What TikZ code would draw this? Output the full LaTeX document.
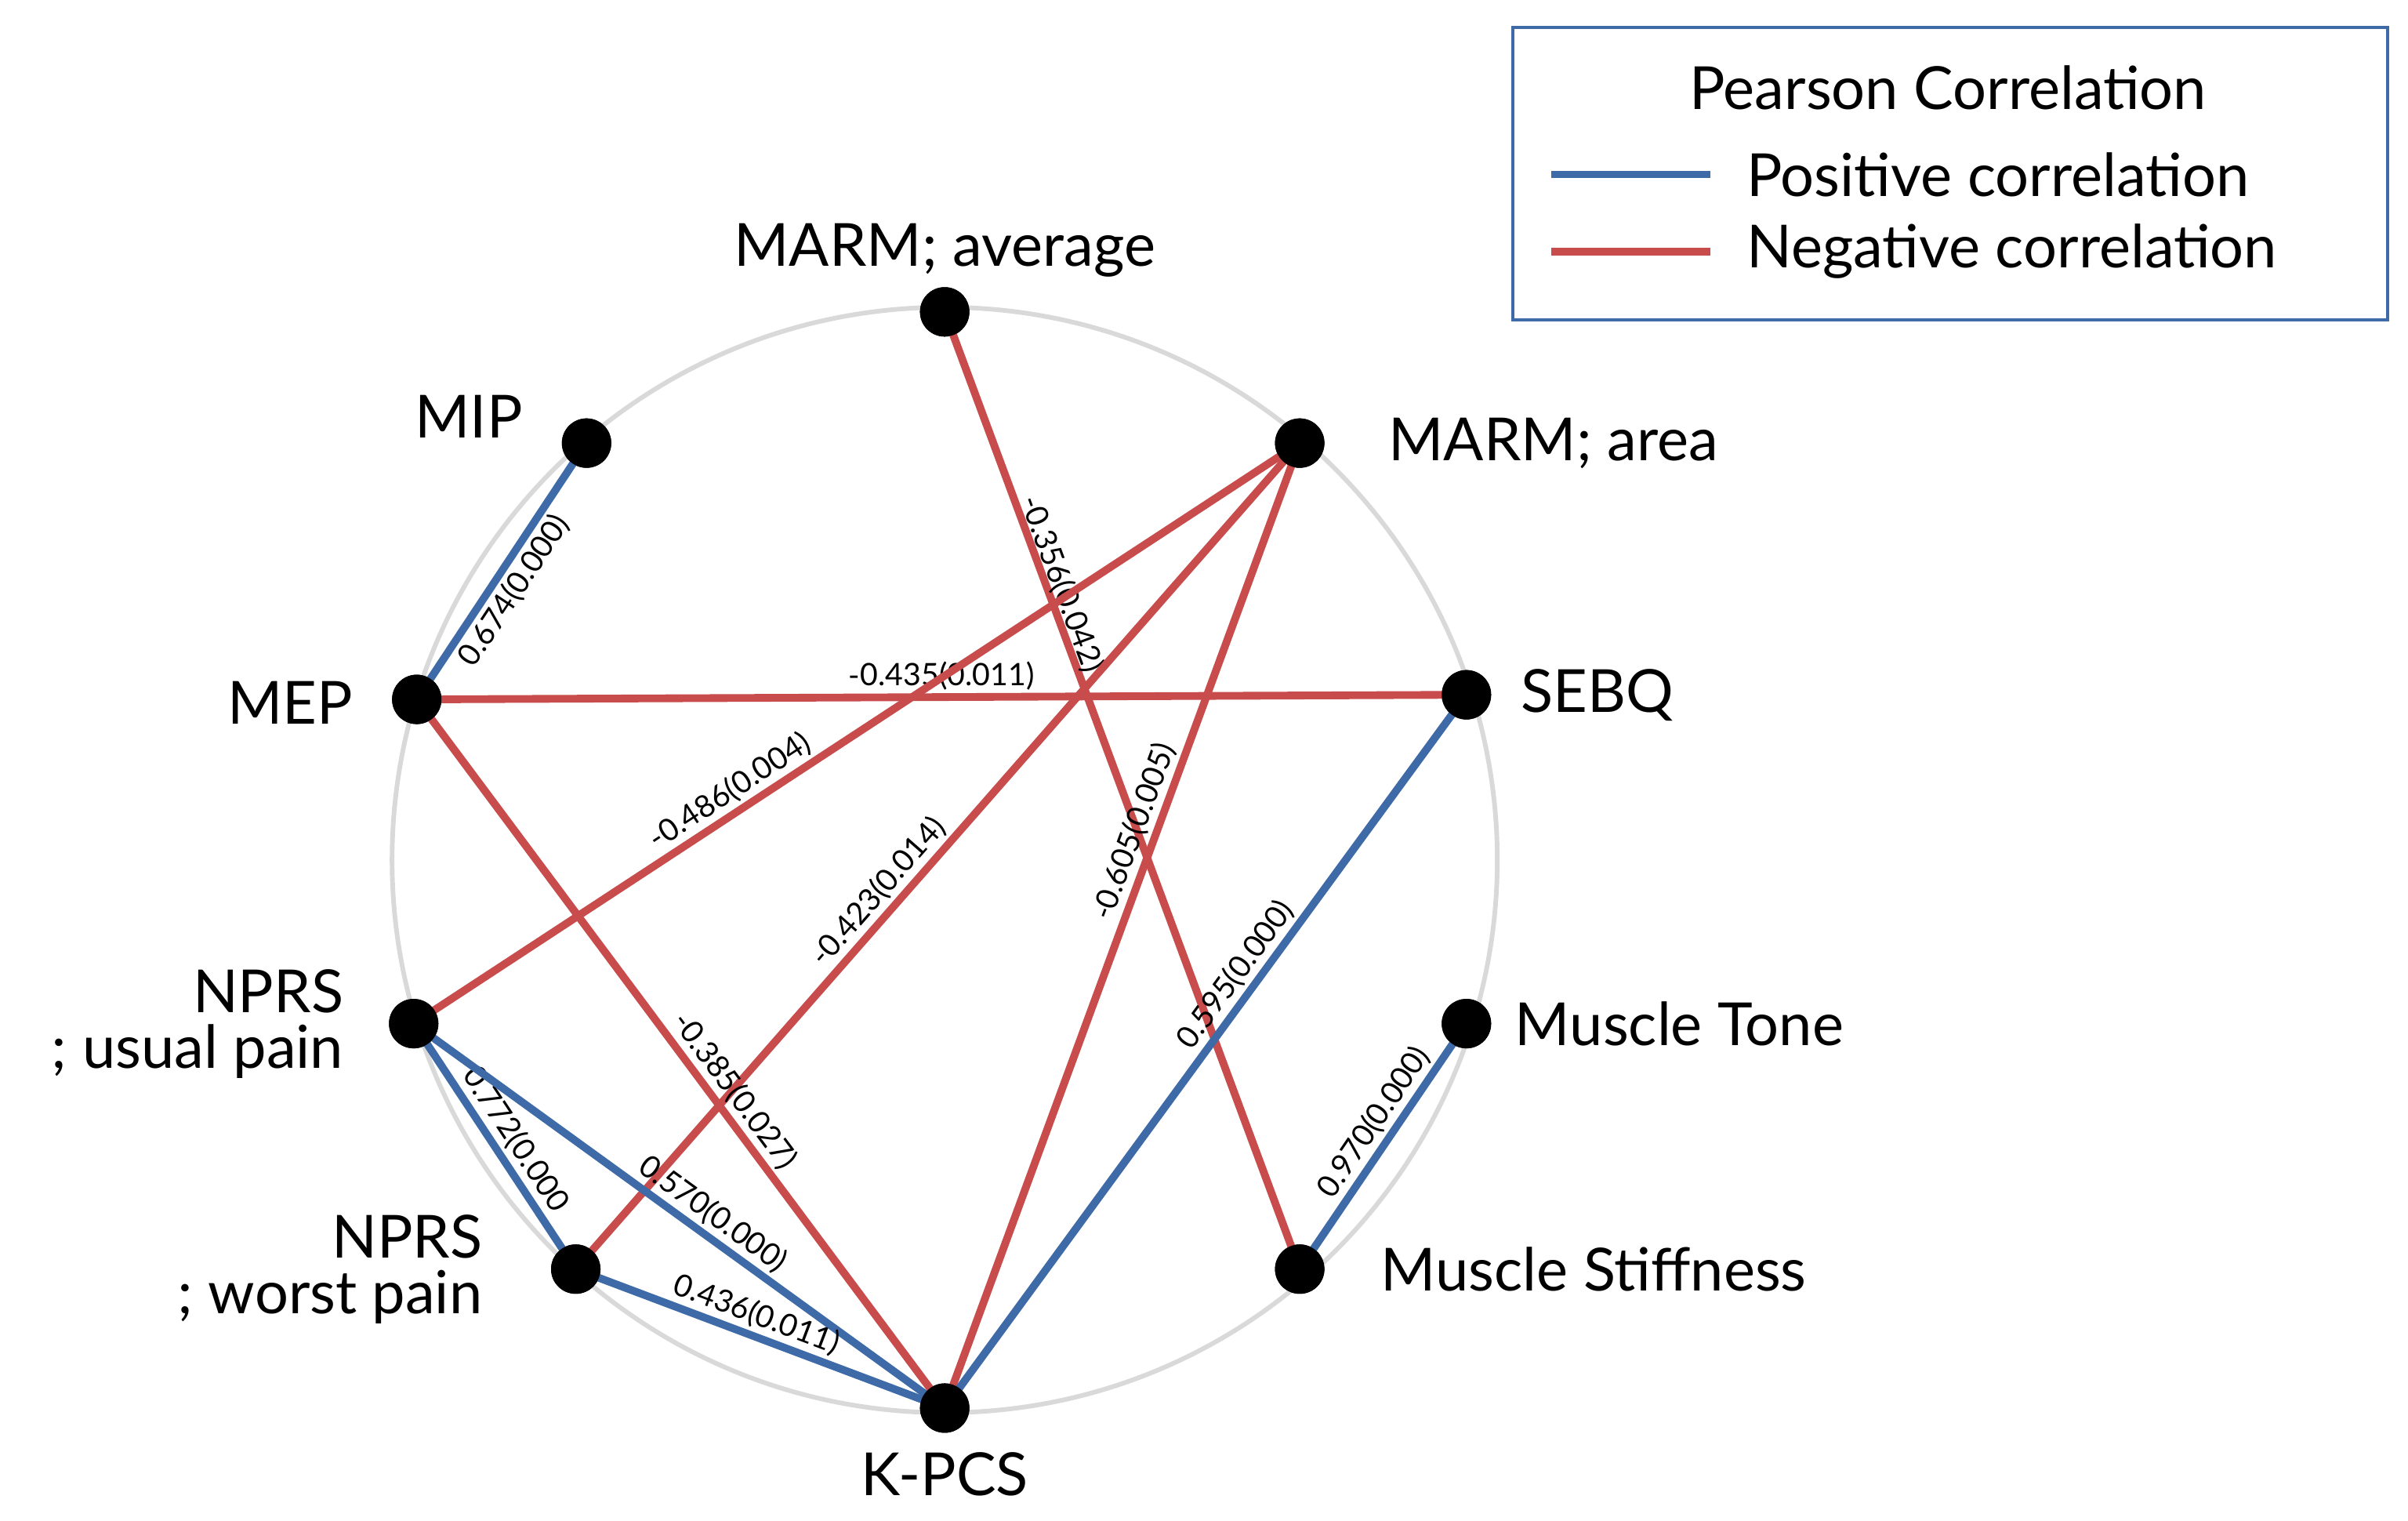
\documentclass[tikz,border=0pt]{standalone}
\usepackage{fontspec}
\setmainfont{Lato}
\begin{document}
\begin{tikzpicture}[x=1pt,y=-1pt,
  dot/.style={circle,fill=black,inner sep=0pt,minimum size=32pt},
  lab/.style={font=\fontsize{38.5}{44}\selectfont},
  poscor/.style={draw=cblue,line width=5pt},
  negcor/.style={draw=cred,line width=5pt},
  el/.style={font=\fontsize{20}{23}\selectfont,sloped,inner sep=2pt}]
\definecolor{cblue}{RGB}{62,106,168}
\definecolor{cred}{RGB}{200,76,76}
\useasboundingbox (0,0) rectangle (1560,985);
\draw[black!15,line width=3pt] (612,557) circle (358);
\node[dot] (avg) at (612,202) {};
\node[dot] (area) at (842,287) {};
\node[dot] (sebq) at (950,450) {};
\node[dot] (tone) at (950,663) {};
\node[dot] (stiff) at (842,822) {};
\node[dot] (kpcs) at (612,912) {};
\node[dot] (worst) at (373,822) {};
\node[dot] (usual) at (268,663) {};
\node[dot] (mep) at (270,453) {};
\node[dot] (mip) at (380,287) {};
\draw[negcor] (avg.center) -- node[el,pos=0.29,above=-4pt]{-0.356(0.042)} (stiff.center);
\draw[negcor] (mep.center) -- node[el,pos=0.5,above]{-0.435(0.011)} (sebq.center);
\draw[negcor] (usual.center) -- node[el,pos=0.37,above]{-0.486(0.004)} (area.center);
\draw[negcor] (worst.center) -- node[el,pos=0.44,above]{-0.423(0.014)} (area.center);
\draw[negcor] (kpcs.center) -- node[el,pos=0.59,above]{-0.605(0.005)} (area.center);
\draw[negcor] (mep.center) -- node[el,pos=0.57,above]{-0.385(0.027)} (kpcs.center);
\draw[poscor] (mep.center) -- node[el,pos=0.47,below]{0.674(0.000)} (mip.center);
\draw[poscor] (kpcs.center) -- node[el,pos=0.59,above]{0.595(0.000)} (sebq.center);
\draw[poscor] (stiff.center) -- node[el,pos=0.55,above]{0.970(0.000)} (tone.center);
\draw[poscor] (usual.center) -- node[el,pos=0.52,above]{0.772(0.000} (worst.center);
\draw[poscor] (usual.center) -- node[el,pos=0.54,above]{0.570(0.000)} (kpcs.center);
\draw[poscor] (worst.center) -- node[el,pos=0.47,above]{0.436(0.011)} (kpcs.center);
\foreach \n in {avg,area,sebq,tone,stiff,kpcs,worst,usual,mep,mip} \node[dot] at (\n) {};
\node[lab] (tavg) at (612,162) {MARM; average};
\node[lab,anchor=east] (tmip) at (342,270) {MIP};
\node[lab,anchor=west] (tarea) at (896,287) {MARM; area};
\node[lab,anchor=west] (tsebq) at (982,450) {SEBQ};
\node[lab,anchor=east] (tmep) at (232,455) {MEP};
\node[lab,anchor=west] (ttone) at (978,663) {Muscle Tone};
\node[lab,anchor=west] (tstiff) at (891,822) {Muscle Stiffness};
\node[lab] (tkpcs) at (612,955) {K-PCS};
\node[lab,anchor=east,align=right] (tusual) at (226,663) {NPRS\\[-8pt]; usual pain};
\node[lab,anchor=east,align=right] (tworst) at (316,822) {NPRS\\[-8pt]; worst pain};
\draw[cblue,line width=2pt] (980,18) rectangle (1547,207);
\node[lab] (lt) at (1262,57) {Pearson Correlation};
\coordinate (b1) at (1005,113); \coordinate (b2) at (1108,113);
\coordinate (r1) at (1005,163); \coordinate (r2) at (1108,163);
\draw[poscor] (b1) -- (b2);
\draw[negcor] (r1) -- (r2);
\node[lab,anchor=west] (lp) at (1128,113) {Positive correlation};
\node[lab,anchor=west] (ln) at (1128,163) {Negative correlation};
\end{tikzpicture}
\end{document}
